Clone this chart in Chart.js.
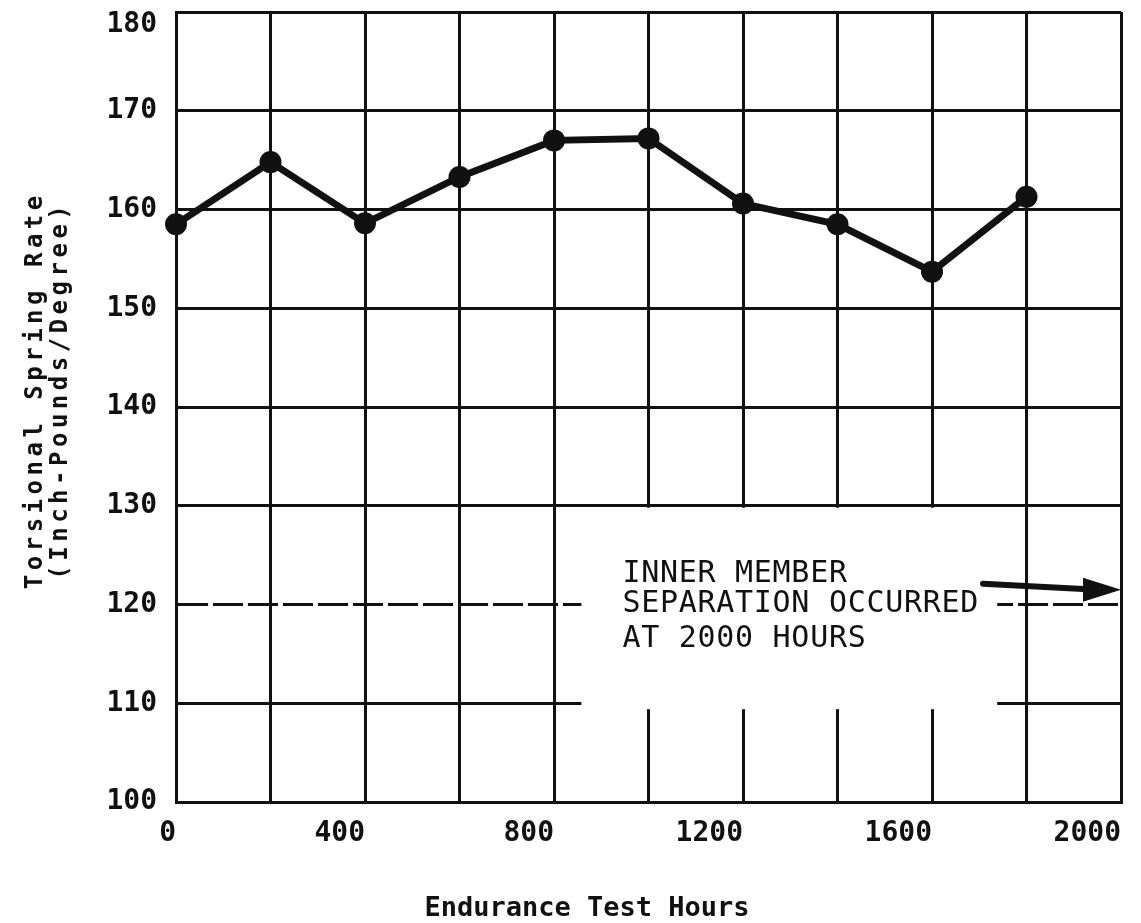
<!DOCTYPE html>
<html lang="en">
<head>
    <meta charset="UTF-8">
    <meta name="viewport" content="width=device-width, initial-scale=1.0">
    <title>Torsional Spring Rate vs Endurance Test Hours</title>
    <script src="https://cdn.jsdelivr.net/npm/chart.js"></script>
    <style>
        html, body { margin: 0; padding: 0; background: #fff; }
        #chartBox { width: 1141px; height: 923px; }
    </style>
</head>
<body>
    <div id="chartBox"><canvas id="springChart"></canvas></div>

    <script>
        // Spring rate readings taken during the endurance run
        const testHours = [0, 200, 400, 600, 800, 1000, 1200, 1400, 1600, 1800];
        const springRate = [158.5, 164.8, 158.6, 163.3, 167.0, 167.2, 160.6, 158.5, 153.7, 161.3];

        // Labelled ticks
        const hourLabels = [0, 400, 800, 1200, 1600, 2000];
        const rateTicks = [100, 110, 120, 130, 140, 150, 160, 170, 180];

        const xTitle = 'Endurance Test Hours';
        const yTitle = ['Torsional Spring Rate', '(Inch-Pounds/Degree)'];
        const noteLines = ['INNER MEMBER', 'SEPARATION OCCURRED', 'AT 2000 HOURS'];
        const failureHours = 2000;

        const INK = '#111';
        const MONO = '"DejaVu Sans Mono", "Liberation Mono", monospace';

        // Axis titles are drawn by hand so the vertical one can be letter-spaced
        const axisTitles = {
            id: 'axisTitles',
            afterDraw(chart) {
                const { ctx, scales: { x, y } } = chart;
                ctx.save();
                ctx.fillStyle = INK;
                ctx.textAlign = 'center';

                ctx.font = 'bold 27px ' + MONO;
                ctx.textBaseline = 'alphabetic';
                ctx.fillText(xTitle, x.getPixelForValue(870), 916);

                ctx.font = 'bold 24px ' + MONO;
                ctx.letterSpacing = '4.5px';
                ctx.textBaseline = 'middle';
                ctx.translate(0, y.getPixelForValue(141.7));
                ctx.rotate(-Math.PI / 2);
                yTitle.forEach((line, i) => ctx.fillText(line, 0, 36 + i * 25));
                ctx.restore();
            }
        };

        // Blanks out the grid behind the note, then writes the note and its arrow
        const failureNote = {
            id: 'failureNote',
            beforeDatasetsDraw(chart) {
                const { ctx, scales: { x, y } } = chart;
                const left = x.getPixelForValue(858);
                const right = x.getPixelForValue(1738);
                const top = y.getPixelForValue(129.8);
                const bottom = y.getPixelForValue(109.4);
                ctx.save();
                ctx.fillStyle = '#fff';
                ctx.fillRect(left, top, right - left, bottom - top);
                ctx.restore();
            },
            afterDatasetsDraw(chart) {
                const { ctx, scales: { x, y } } = chart;
                const baselines = [122.3, 119.2, 115.7];
                ctx.save();
                ctx.fillStyle = INK;
                ctx.font = '30px ' + MONO;
                ctx.letterSpacing = '0.7px';
                ctx.textBaseline = 'alphabetic';
                noteLines.forEach((line, i) => {
                    ctx.fillText(line, x.getPixelForValue(945), y.getPixelForValue(baselines[i]));
                });

                // arrow pointing at the failure time
                const x0 = x.getPixelForValue(1708), y0 = y.getPixelForValue(122.1);
                const x1 = x.getPixelForValue(failureHours), y1 = y.getPixelForValue(121.5);
                const headLen = 38, headHalf = 12;
                ctx.strokeStyle = INK;
                ctx.lineWidth = 6;
                ctx.lineCap = 'round';
                ctx.beginPath();
                ctx.moveTo(x0, y0);
                ctx.lineTo(x1 - headLen, y1 - 0.8);
                ctx.stroke();
                ctx.beginPath();
                ctx.moveTo(x1, y1);
                ctx.lineTo(x1 - headLen, y1 - headHalf);
                ctx.lineTo(x1 - headLen, y1 + headHalf);
                ctx.closePath();
                ctx.fill();
                ctx.restore();
            }
        };

        const ctx = document.getElementById('springChart').getContext('2d');
        new Chart(ctx, {
            type: 'line',
            data: {
                datasets: [{
                    label: 'Torsional Spring Rate',
                    data: testHours.map((h, i) => ({ x: h, y: springRate[i] })),
                    borderColor: INK,
                    borderWidth: 7,
                    pointRadius: 11,
                    pointBackgroundColor: INK,
                    pointBorderWidth: 0,
                    tension: 0,
                    clip: false
                }]
            },
            options: {
                responsive: true,
                maintainAspectRatio: false,
                animation: false,
                devicePixelRatio: 1,
                layout: { padding: { top: 12, right: 20, bottom: 0, left: 0 } },
                plugins: {
                    legend: { display: false },
                    tooltip: { enabled: false }
                },
                scales: {
                    x: {
                        type: 'linear',
                        min: 0,
                        max: 2000,
                        afterFit: s => { s.height = 121; },
                        ticks: {
                            stepSize: 200,
                            align: 'end',
                            padding: 15,
                            color: INK,
                            font: { family: MONO, size: 28, weight: 'bold' },
                            maxRotation: 0,
                            autoSkip: false,
                            callback: v => hourLabels.includes(v) ? String(v) : ''
                        },
                        grid: { color: INK, lineWidth: 3, drawTicks: false },
                        border: { color: INK, width: 3 }
                    },
                    y: {
                        min: 100,
                        max: 180,
                        afterBuildTicks: s => {
                            s.ticks = rateTicks.map(v => ({ value: v }));
                        },
                        afterFit: s => {
                            s.width = 176;
                            s.paddingTop = 0;
                            s.paddingBottom = 0;
                        },
                        ticks: {
                            padding: 19,
                            color: INK,
                            font: { family: MONO, size: 28, weight: 'bold', lineHeight: 0.9 },
                            // the top label sits just under its line so it stays on the page
                            callback: v => v === 180 ? ['', '180'] : String(v)
                        },
                        grid: { color: INK, lineWidth: 3, drawTicks: false },
                        border: {
                            color: INK,
                            width: 3,
                            // the 120 line is broken into long dashes
                            dash: c => (c.tick && c.tick.value === 120) ? [30, 5] : []
                        }
                    }
                }
            },
            plugins: [failureNote, axisTitles]
        });
    </script>
</body>
</html>
